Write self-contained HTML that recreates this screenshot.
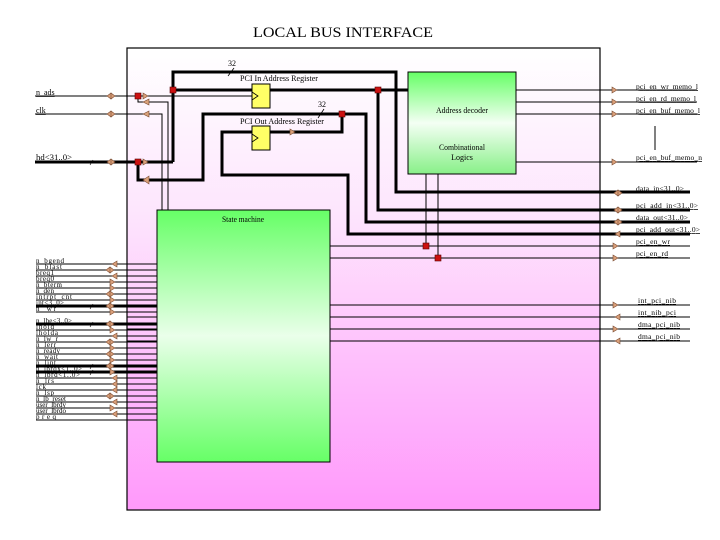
<!DOCTYPE html>
<html><head><meta charset="utf-8"><style>
html,body{margin:0;padding:0;background:#fff;}
svg{display:block;}
text{font-family:"Liberation Serif",serif;}
</style></head><body>
<svg width="720" height="540" viewBox="0 0 720 540" xmlns="http://www.w3.org/2000/svg">
<defs>
<linearGradient id="pk" x1="0" y1="0" x2="0" y2="1">
<stop offset="0" stop-color="#ffffff"/><stop offset="0.35" stop-color="#fde6fd"/><stop offset="1" stop-color="#ff99fb"/>
</linearGradient>
<linearGradient id="gr" x1="0" y1="0" x2="0" y2="1">
<stop offset="0" stop-color="#66ff66"/><stop offset="0.5" stop-color="#eaffea"/><stop offset="1" stop-color="#66ff66"/>
</linearGradient>
<linearGradient id="gr2" x1="0" y1="0" x2="0" y2="1">
<stop offset="0" stop-color="#66ff66"/><stop offset="0.5" stop-color="#f4fff4"/><stop offset="1" stop-color="#88f088"/>
</linearGradient>
</defs>
<text x="343" y="37" font-size="15" text-anchor="middle" textLength="180" lengthAdjust="spacingAndGlyphs">LOCAL BUS INTERFACE</text>
<rect x="127" y="48" width="473" height="462" fill="url(#pk)" stroke="#000" stroke-width="1.2"/>

<!-- thin lines -->
<g stroke="#000" stroke-width="1" fill="none">
<path d="M35 96H253"/>
<path d="M35 114H162V210"/>
<path d="M138 96V102H168V210"/>
<path d="M516 90H697M516 102H697M516 114H697M516 162H697"/>
<path d="M655 126V150"/>
<path d="M330 246H690M330 258H690"/>
<path d="M426 174V246M438 174V258"/>
<path d="M127 305H690M127 317H690M127 329H690M127 341H690"/>
</g>
<!-- thick buses -->
<g stroke="#000" stroke-width="3" fill="none">
<path d="M173 162V72H396V192H690"/>
<path d="M173 90H408"/>
<path d="M378 90V210H690"/>
<path d="M35 162H173"/>
<path d="M138 162V180H203V114H366V222H690"/>
<path d="M342 114V132H270"/>
<path d="M253 132H222V175H348V234H690"/>
</g>

<!-- registers -->
<rect x="252" y="84" width="18" height="24" fill="#ffff66" stroke="#000"/>
<path d="M252 92L258 96L252 100" fill="none" stroke="#000" stroke-width="0.8"/>
<rect x="252" y="126" width="18" height="24" fill="#ffff66" stroke="#000"/>
<path d="M252 134L258 138L252 142" fill="none" stroke="#000" stroke-width="0.8"/>
<text x="240" y="81" font-size="8" textLength="78" lengthAdjust="spacingAndGlyphs">PCI In Address Register</text>
<text x="240" y="124" font-size="8" textLength="84" lengthAdjust="spacingAndGlyphs">PCI Out Address Register</text>
<text x="228" y="66" font-size="8">32</text>
<path d="M228 76L234 68" stroke="#000" stroke-width="0.8"/>
<text x="318" y="107" font-size="8">32</text>
<path d="M318 118L324 109" stroke="#000" stroke-width="0.8"/>

<!-- decoder -->
<rect x="408" y="72" width="108" height="102" fill="url(#gr2)" stroke="#000"/>
<text x="462" y="113" font-size="8" text-anchor="middle" textLength="52" lengthAdjust="spacingAndGlyphs">Address decoder</text>
<text x="462" y="150" font-size="8" text-anchor="middle" textLength="46" lengthAdjust="spacingAndGlyphs">Combinational</text>
<text x="462" y="160" font-size="8" text-anchor="middle">Logics</text>

<!-- state machine -->
<rect x="157" y="210" width="173" height="252" fill="url(#gr)" stroke="#000"/>
<text x="243" y="222" font-size="8" text-anchor="middle" textLength="42" lengthAdjust="spacingAndGlyphs">State machine</text>

<!-- junctions -->
<g fill="#cc1111" stroke="#550000" stroke-width="0.6">
<rect x="135" y="93" width="6" height="6"/>
<rect x="135" y="159" width="6" height="6"/>
<rect x="170" y="87" width="6" height="6"/>
<rect x="375" y="87" width="6" height="6"/>
<rect x="339" y="111" width="6" height="6"/>
<rect x="423" y="243" width="6" height="6"/>
<rect x="435" y="255" width="6" height="6"/>
</g>

<!-- arrows -->
<g fill="#d9a07a" stroke="#7a4a30" stroke-width="0.6">
<path d="M107 96l4-3v6zM115 96l-4-3v6z"/>
<path d="M107 114l4-3v6zM115 114l-4-3v6z"/>
<path d="M107 162l4-3v6zM115 162l-4-3v6z"/>
<path d="M143 93l5 3-5 3z"/>
<path d="M143 162l-0 0M143 159l5 3-5 3z"/>
<path d="M143 102l6-3v6z"/>
<path d="M143 114l6-3v6z"/>
<path d="M143 180l6-4v8z"/>
<path d="M290 129l5 3-5 3z"/>
<path d="M612 87l5 3-5 3zM612 99l5 3-5 3zM612 111l5 3-5 3zM612 159l5 3-5 3z"/>
<path d="M614 193l4-3v6zM622 193l-4-3v6z"/>
<path d="M614 210l4-3v6zM622 210l-4-3v6z"/>
<path d="M614 222l4-3v6zM622 222l-4-3v6z"/>
<path d="M615 234l5-3v6z"/>
<path d="M613 243l5 3-5 3zM613 255l5 3-5 3z"/>
<path d="M613 302l5 3-5 3z"/><path d="M615 317l5-3v6z"/>
<path d="M613 326l5 3-5 3z"/><path d="M615 341l5-3v6z"/>
</g>

<!-- left labels top -->
<g font-size="8" text-decoration="underline">
<text x="36" y="95">n_ads</text>
<text x="36" y="113">clk</text>
<text x="36" y="160" textLength="36" lengthAdjust="spacingAndGlyphs">hd&lt;31..0&gt;</text>
</g>
<path d="M36 96H54M36 114H44" stroke="#000" stroke-width="0.6"/>

<!-- left signal list -->
<g id="ls" font-size="7.5">
</g>
<g stroke="#000" stroke-width="1">
<path d="M36 264H157M36 270H157M36 276H157M36 282H157M36 288H157M36 294H157M36 300H157M36 312H157"/>
<path d="M36 330H157M36 336H157M36 342H157M36 348H157M36 354H157M36 360H157M36 378H157M36 384H157M36 390H157M36 396H157M36 402H157M36 408H157M36 414H157M36 420H157"/>
</g>
<g stroke="#000" stroke-width="3">
<path d="M36 306H157M36 324H157M36 366H157M36 372H157"/>
</g>
<g font-size="7" lengthAdjust="spacingAndGlyphs">
<text x="36" y="263" textLength="28">n_bgend</text>
<text x="36" y="269" textLength="26">n_blast</text>
<text x="36" y="275" textLength="18">breq1</text>
<text x="36" y="281" textLength="18">breq0</text>
<text x="36" y="287" textLength="26">n_bterm</text>
<text x="36" y="293" textLength="18">n_den</text>
<text x="36" y="299" textLength="36">intrpt_cnt</text>
<text x="36" y="305" textLength="28">int&lt;3..0&gt;</text>
<text x="36" y="311" textLength="20">n_wr</text>
<text x="36" y="323" textLength="36">n_lbe&lt;3..0&gt;</text>
<text x="36" y="329" textLength="18">lhold</text>
<text x="36" y="335" textLength="22">lholda</text>
<text x="36" y="341" textLength="22">n_lw_r</text>
<text x="36" y="347" textLength="20">n_lerr</text>
<text x="36" y="353" textLength="24">n_ready</text>
<text x="36" y="359" textLength="22">n_wait</text>
<text x="36" y="365" textLength="20">n_lint</text>
<text x="36" y="371" textLength="46">n_lbrdx&lt;1..0&gt;</text>
<text x="36" y="377" textLength="44">n_lbrd&lt;1..0&gt;</text>
<text x="36" y="383" textLength="18">n_lrs</text>
<text x="36" y="389" textLength="10">lck</text>
<text x="36" y="395" textLength="18">n_lsp</text>
<text x="36" y="401" textLength="30">n_lb_reset</text>
<text x="36" y="407" textLength="30">user_lbrdy</text>
<text x="36" y="413" textLength="30">user_lbrdo</text>
<text x="36" y="419" textLength="20">preq</text>
</g>
<g fill="#d9a07a" stroke="#7a4a30" stroke-width="0.6">
<path d="M112 264l5-3v6z"/><path d="M106 270l4-3v6zM114 270l-4-3v6z"/><path d="M112 276l5-3v6z"/>
<path d="M110 282l5 3-5 3z" transform="translate(0,-3)"/><path d="M110 285l5 3-5 3z"/>
<path d="M106 294l4-3v6zM114 294l-4-3v6z"/><path d="M110 297l5 3-5 3z"/>
<path d="M106 306l4-3v6zM114 306l-4-3v6z"/><path d="M110 309l5 3-5 3z"/>
<path d="M106 324l4-3v6zM114 324l-4-3v6z"/><path d="M110 327l5 3-5 3z"/><path d="M112 336l5-3v6z"/>
<path d="M106 342l4-3v6zM114 342l-4-3v6z"/><path d="M110 345l5 3-5 3z"/><path d="M106 354l4-3v6zM114 354l-4-3v6z"/>
<path d="M110 357l5 3-5 3z"/><path d="M106 366l4-3v6zM114 366l-4-3v6z"/><path d="M110 369l5 3-5 3z"/>
<path d="M112 378l5-3v6z"/><path d="M112 384l5-3v6z"/><path d="M112 390l5-3v6z"/>
<path d="M106 396l4-3v6zM114 396l-4-3v6z"/><path d="M112 402l5-3v6z"/><path d="M110 405l5 3-5 3z"/><path d="M112 414l5-3v6z"/>
</g>
<path d="M90 165l3-5M90 309l3-5M90 327l3-5M90 369l3-5M90 375l3-5" stroke="#000" stroke-width="0.6"/>

<!-- right labels -->
<g font-size="7.5" text-decoration="underline" lengthAdjust="spacingAndGlyphs">
<text x="636" y="89" textLength="62">pci_en_wr_memo_l</text>
<text x="636" y="101" textLength="60">pci_en_rd_memo_l</text>
<text x="636" y="113" textLength="64">pci_en_buf_memo_l</text>
<text x="636" y="160" textLength="66">pci_en_buf_memo_n</text>
<text x="636" y="191" textLength="48">data_in&lt;31..0&gt;</text>
<text x="636" y="208" textLength="62">pci_add_in&lt;31..0&gt;</text>
<text x="636" y="220" textLength="52">data_out&lt;31..0&gt;</text>
<text x="636" y="232" textLength="64">pci_add_out&lt;31..0&gt;</text>
<text x="636" y="244" textLength="34">pci_en_wr</text>
<text x="636" y="256" textLength="32">pci_en_rd</text>
<text x="638" y="303" textLength="38">int_pci_nib</text>
<text x="638" y="315" textLength="38">int_nib_pci</text>
<text x="638" y="327" textLength="42">dma_pci_nib</text>
<text x="638" y="339" textLength="42">dma_pci_nib</text>
</g>
</svg>
</body></html>
